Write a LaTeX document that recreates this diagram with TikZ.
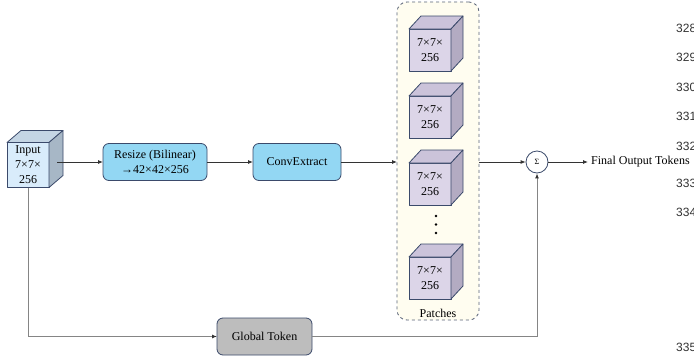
\documentclass[tikz,border=0pt]{standalone}
\usepackage{fontspec}
\setmainfont{Liberation Serif}
\newfontfamily\numfont{Liberation Sans}
\usetikzlibrary{arrows.meta}

\definecolor{edgeblue}{HTML}{3B4A6B}
\definecolor{boxblue}{HTML}{93D7F3}
\definecolor{inFront}{HTML}{D9ECFB}
\definecolor{inSide}{HTML}{A7B7C6}
\definecolor{inTop}{HTML}{C4D5E4}
\definecolor{pFront}{HTML}{DCD5E8}
\definecolor{pSide}{HTML}{B3ABC2}
\definecolor{pTop}{HTML}{CBC3DA}
\definecolor{panelfill}{HTML}{FFFDF0}
\definecolor{paneledge}{HTML}{5A6478}
\definecolor{globalgray}{HTML}{BDBDBD}
\definecolor{wire}{HTML}{333333}
\definecolor{wiregray}{HTML}{858585}
\definecolor{numgray}{HTML}{333333}

\tikzset{
  cubeedge/.style={draw=edgeblue, line width=0.8pt, line join=round},
  cubeface/.style={cubeedge, minimum width=42pt, minimum height=42pt,
    inner sep=0pt, outer sep=0pt, align=center,
    font=\fontsize{12}{15}\selectfont},
  procbox/.style={draw=edgeblue, line width=0.8pt, rounded corners=6pt,
    fill=boxblue, minimum height=37pt, inner sep=2pt, outer sep=0pt,
    align=center, font=\fontsize{12}{15}\selectfont},
  panelbox/.style={draw=paneledge, dashed, line width=0.8pt, rounded corners=10pt,
    fill=panelfill, minimum width=82pt, minimum height=318pt, outer sep=0pt},
  wire/.style={draw=wire, line width=0.8pt, -{Latex[length=5pt,width=4pt]}},
  graywire/.style={draw=wiregray, line width=1pt, -{Latex[length=5pt,width=4pt,color=wire]}},
  linenum/.style={font=\numfont\fontsize{12}{12}\selectfont, text=numgray,
    anchor=west, inner sep=0pt},
}

% top and right faces of a box drawn from its front-face node
\newcommand{\cubefaces}[5]{%
  \draw[cubeedge, fill=#4] (#1.north west) -- ++(#2,-#3)
    -- ([shift={(#2,-#3)}]#1.north east) -- (#1.north east) -- cycle;
  \draw[cubeedge, fill=#5] (#1.north east) -- ++(#2,-#3)
    -- ([shift={(#2,-#3)}]#1.south east) -- (#1.south east) -- cycle;
}

\begin{document}
\begin{tikzpicture}[x=1pt, y=-1pt, font=\fontsize{12}{15}\selectfont]
\clip (0,0) rectangle (694,362);
\fill[white] (0,0) rectangle (694,362);

% input tensor
\node[cubeface, fill=inFront, minimum height=45pt] (in) at (28,165) {Input\\7×7×\\256};
\cubefaces{in}{14}{12}{inTop}{inSide}
\coordinate (inout) at ([xshift=8pt]in.east);

% processing stages
\node[procbox, minimum width=104pt] (rs) at (155,162) {Resize (Bilinear)\\→42×42×256};
\node[procbox, minimum width=88pt] (cv) at (297,162) {ConvExtract};
\node[procbox, fill=globalgray, minimum width=95pt] (gt) at (264.5,336.5) {Global Token};

% patch panel
\node[panelbox] (patches) at (438,161) {};
\node (plabel) at (438,313) {Patches};
\node[cubeface, fill=pFront] (p1) at (430,50) {7×7×\\256};
\cubefaces{p1}{12}{13}{pTop}{pSide}
\node[cubeface, fill=pFront] (p2) at (430,117) {7×7×\\256};
\cubefaces{p2}{12}{13}{pTop}{pSide}
\node[cubeface, fill=pFront] (p3) at (430,184) {7×7×\\256};
\cubefaces{p3}{12}{13}{pTop}{pSide}
\node[cubeface, fill=pFront] (p4) at (430,278) {7×7×\\256};
\cubefaces{p4}{12}{13}{pTop}{pSide}
\foreach \yy in {216,224.5,233} \fill[black] (436,\yy) circle (1.3pt);

% sum and output
\node[circle, draw=edgeblue, line width=0.8pt, fill=white, minimum size=22pt,
  inner sep=0pt, font=\fontsize{8}{8}\selectfont] (sum) at (537,162) {Σ};
\node[anchor=west, inner sep=0pt] (out) at (591,162) {Final Output Tokens};

% connectors
\draw[wire] (inout |- rs.west) -- (rs.west);
\draw[wire] (rs.east) -- (cv.west);
\draw[wire] (cv.east) -- (cv.east -| patches.west);
\draw[wire] (sum.west -| patches.east) -- (sum.west);
\draw[wire] (sum.east) -- ([xshift=-3pt]out.west);
\draw[graywire] (in.south) -- (in.south |- gt.west) -- (gt.west);
\draw[graywire] (gt.east) -- (gt.east -| sum.south) -- (sum.south);

% line numbers of the page
\node[linenum] (n328) at (676,28) {328};
\node[linenum] (n329) at (676,57) {329};
\node[linenum] (n330) at (676,87) {330};
\node[linenum] (n331) at (676,116) {331};
\node[linenum] (n332) at (676,146) {332};
\node[linenum] (n333) at (676,183) {333};
\node[linenum] (n334) at (676,212) {334};
\node[linenum] (n335) at (676,347) {335};
\end{tikzpicture}
\end{document}
